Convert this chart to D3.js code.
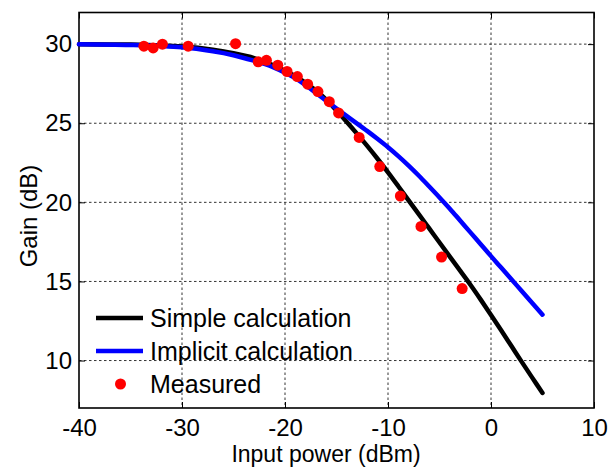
<!DOCTYPE html>
<html>
<head>
<meta charset="utf-8">
<script src="https://cdn.jsdelivr.net/npm/d3@7"></script>
<style>
  body { margin: 0; background: #fff; }
  text { font-family: "Liberation Sans", Arial, sans-serif; fill: #000; }
</style>
</head>
<body>
<svg></svg>
<script>
// data
var powerX = [-40, -35, -30, -27, -25, -23, -22, -21, -20, -19, -18, -17, -16, -15, -14, -13, -12, -11, -10,
              -9, -8, -7, -6, -5, -4, -3, -2, -1, 0, 1, 2, 3, 4, 5];
var simpleGain = [30.0, 29.97, 29.85, 29.65, 29.42, 29.12, 28.88, 28.62, 28.32, 27.97, 27.55, 27.07, 26.5, 25.8, 25.08, 24.33, 23.55, 22.74, 21.9,
                  21.02, 20.12, 19.24, 18.35, 17.46, 16.57, 15.68, 14.79, 13.85, 12.88, 11.9, 10.9, 9.9, 8.92, 7.95];
var implicitGain = [30.0, 29.95, 29.8, 29.55, 29.3, 28.95, 28.75, 28.5, 28.2, 27.85, 27.4, 26.92, 26.42, 25.93, 25.45, 24.98, 24.5, 24.0, 23.48,
                    22.92, 22.32, 21.68, 21.0, 20.31, 19.6, 18.85, 18.1, 17.35, 16.6, 15.86, 15.12, 14.38, 13.64, 12.9];

var measuredX = [-33.7, -32.8, -31.9, -29.4, -24.8, -22.6, -21.8, -20.7, -19.8, -18.8, -17.8, -16.8, -15.7, -14.8, -12.8, -10.8, -8.8, -6.8, -4.8, -2.8];
var measuredGain = [29.87, 29.76, 30.0, 29.87, 30.03, 28.88, 28.98, 28.67, 28.27, 27.95, 27.47, 27.0, 26.36, 25.65, 24.1, 22.26, 20.4, 18.48, 16.54, 14.55];

var xTicks = [-40, -30, -20, -10, 0, 10];
var yTicks = [10, 15, 20, 25, 30];
var legendLabels = ["Simple calculation", "Implicit calculation", "Measured"];

var svgWidth = 610;
var svgHeight = 468;
var plotLeft = 79, plotRight = 594, plotTop = 12.5, plotBottom = 408;

var svg = d3.select("svg")
    .attr("width", svgWidth)
    .attr("height", svgHeight);

var x = d3.scaleLinear().domain([-40, 10]).range([plotLeft, plotRight]);
var y = d3.scaleLinear().domain([7, 32]).range([plotBottom, plotTop]);

// dotted grid
svg.append("g").selectAll("line")
    .data(xTicks.slice(1, -1))
    .enter().append("line")
    .attr("x1", function(d) { return x(d); })
    .attr("x2", function(d) { return x(d); })
    .attr("y1", plotTop).attr("y2", plotBottom)
    .attr("stroke", "#333").attr("stroke-width", 1)
    .attr("stroke-dasharray", "2.5,2.5");

svg.append("g").selectAll("line")
    .data(yTicks)
    .enter().append("line")
    .attr("y1", function(d) { return y(d); })
    .attr("y2", function(d) { return y(d); })
    .attr("x1", plotLeft).attr("x2", plotRight)
    .attr("stroke", "#333").attr("stroke-width", 1)
    .attr("stroke-dasharray", "2.5,2.5");

// axes with inward ticks on all four sides
svg.append("g")
    .attr("transform", "translate(0," + plotBottom + ")")
    .call(d3.axisBottom(x).tickValues(xTicks).tickSize(-6).tickPadding(14)
        .tickFormat(function(d) { return String(d); }))
    .call(function(g) {
        g.select(".domain").remove();
        g.selectAll("text").attr("font-size", 24).attr("dy", "0.6em");
    });

svg.append("g")
    .attr("transform", "translate(" + plotLeft + ",0)")
    .call(d3.axisLeft(y).tickValues(yTicks).tickSize(-6).tickPadding(7)
        .tickFormat(function(d) { return String(d); }))
    .call(function(g) {
        g.select(".domain").remove();
        g.selectAll("text").attr("font-size", 24);
    });

svg.append("g")
    .attr("transform", "translate(0," + plotTop + ")")
    .call(d3.axisTop(x).tickValues(xTicks).tickSize(-6).tickFormat(""))
    .call(function(g) { g.select(".domain").remove(); });

svg.append("g")
    .attr("transform", "translate(" + plotRight + ",0)")
    .call(d3.axisRight(y).tickValues(yTicks).tickSize(-6).tickFormat(""))
    .call(function(g) { g.select(".domain").remove(); });

svg.selectAll(".tick line").attr("stroke", "#000").attr("stroke-width", 1);
svg.selectAll(".tick text").attr("font-family", "Liberation Sans, Arial, sans-serif");

svg.append("rect")
    .attr("x", plotLeft).attr("y", plotTop)
    .attr("width", plotRight - plotLeft).attr("height", plotBottom - plotTop)
    .attr("fill", "none").attr("stroke", "#000").attr("stroke-width", 1.6);

// curves
var line = d3.line()
    .x(function(d) { return x(d[0]); })
    .y(function(d) { return y(d[1]); })
    .curve(d3.curveCatmullRom);

svg.append("path")
    .datum(d3.zip(powerX, simpleGain))
    .attr("d", line)
    .attr("fill", "none").attr("stroke", "#000").attr("stroke-width", 4.5)
    .attr("stroke-linecap", "round");

svg.append("path")
    .datum(d3.zip(powerX, implicitGain))
    .attr("d", line)
    .attr("fill", "none").attr("stroke", "#0000ff").attr("stroke-width", 4.5)
    .attr("stroke-linecap", "round");

svg.append("g").selectAll("circle")
    .data(d3.zip(measuredX, measuredGain))
    .enter().append("circle")
    .attr("cx", function(d) { return x(d[0]); })
    .attr("cy", function(d) { return y(d[1]); })
    .attr("r", 5.5)
    .attr("fill", "#ff0000");

// legend (no box)
var legendY = [318, 351, 384];
var legendColors = ["#000", "#0000ff", "#ff0000"];
var legend = svg.append("g");
legendLabels.forEach(function(label, i) {
    if (i < 2) {
        legend.append("line")
            .attr("x1", 96).attr("x2", 143)
            .attr("y1", legendY[i]).attr("y2", legendY[i])
            .attr("stroke", legendColors[i]).attr("stroke-width", 4.5);
    } else {
        legend.append("circle")
            .attr("cx", 120.5).attr("cy", legendY[i]).attr("r", 5.5)
            .attr("fill", legendColors[i]);
    }
    legend.append("text")
        .attr("x", 150).attr("y", legendY[i] + 9)
        .attr("font-size", 25)
        .text(label);
});

// axis titles
svg.append("text")
    .attr("x", 326).attr("y", 462)
    .attr("text-anchor", "middle")
    .attr("font-size", 23)
    .text("Input power (dBm)");

svg.append("text")
    .attr("transform", "translate(37,216) rotate(-90)")
    .attr("text-anchor", "middle")
    .attr("font-size", 24)
    .text("Gain (dB)");
</script>
</body>
</html>
